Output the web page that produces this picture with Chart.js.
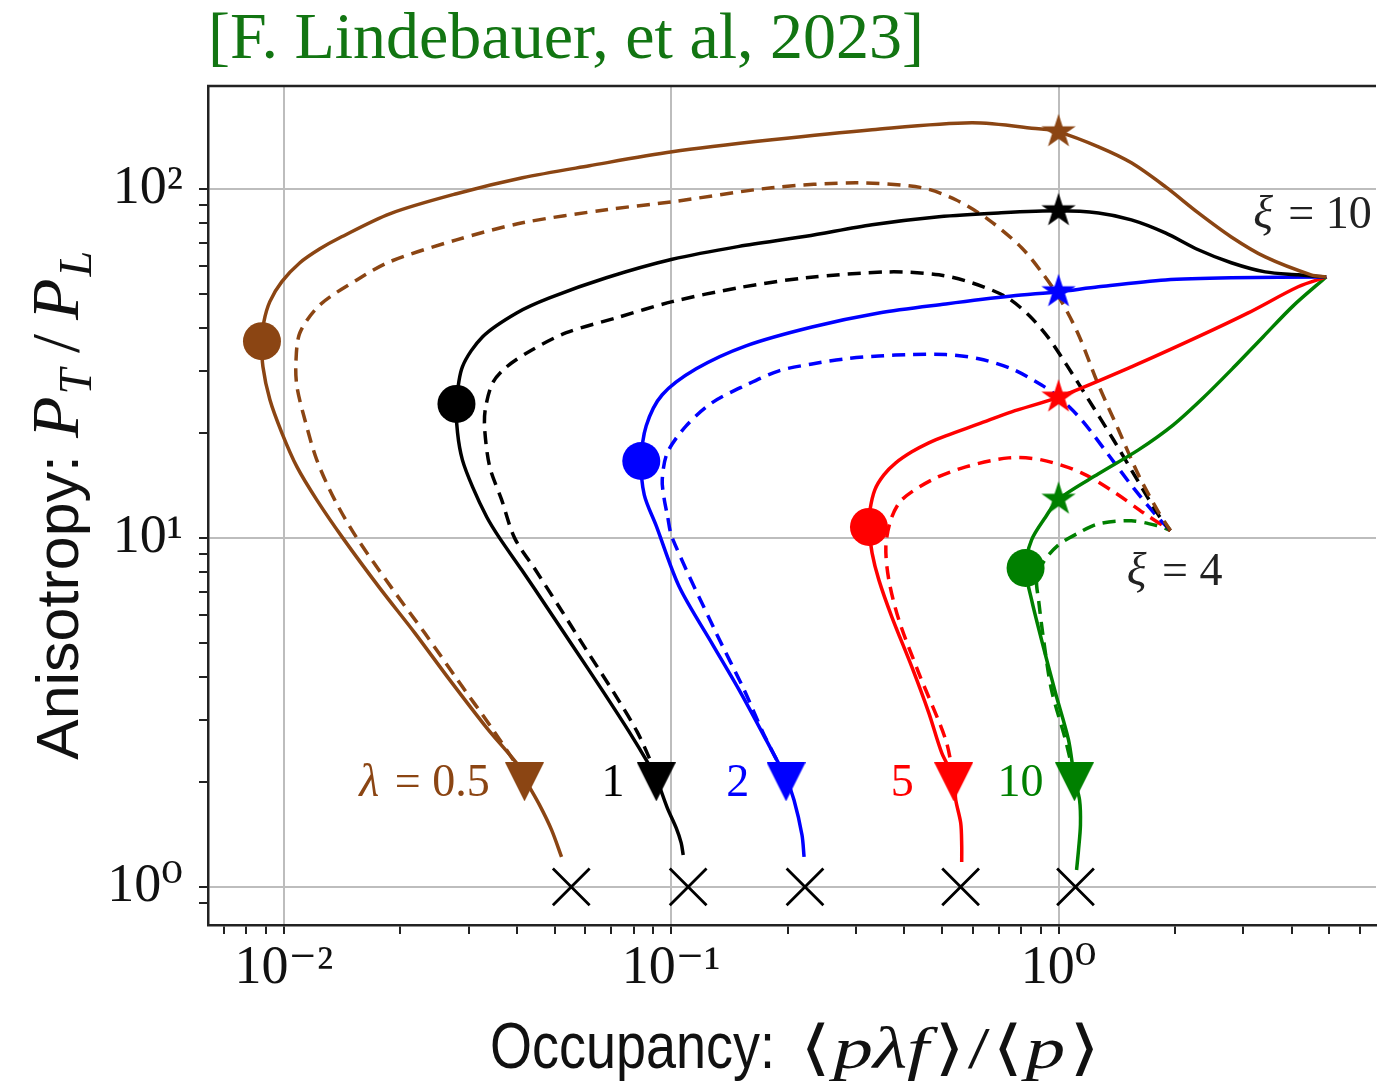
<!DOCTYPE html>
<html><head><meta charset="utf-8">
<script src="https://cdn.jsdelivr.net/npm/chart.js@4.4.1/dist/chart.umd.min.js"></script>
<style>html,body{margin:0;padding:0;background:#fff;overflow:hidden}</style>
</head><body>
<canvas id="c" width="1378" height="1087"></canvas>
<script>
// ---------------- data ----------------
const lambdas = ['0.5', '1', '2', '5', '10'];

// xi = 10 (solid) and xi = 4 (dashed) trajectories for each lambda
const brownSolidX = [0.0521,0.0491,0.0457,0.0418,0.0406,0.0334,0.0268,0.02177,0.01767,0.01419,0.01216,0.01081,0.00988,0.0092,0.00883,0.00878,0.00888,0.0092,0.00988,0.011,0.01239,0.01394,0.01876,0.0279,0.0413,0.0615,0.1006,0.182,0.33,0.597,0.888,1.0,1.268,1.542,1.887,2.295,2.792,3.416,4.487,4.91];
const brownSolidY = [1.219,1.457,1.718,2.05,2.207,2.855,3.918,5.345,7.19,10,12.85,15.97,20,24.9,30.9,36.6,41.6,47.5,54.2,61.4,67.3,72.4,84.8,96.8,107.5,116.4,127.6,138.1,147.6,154.6,148.5,145.6,131.9,118.7,101.4,85.3,72.8,63.8,56.7,55.9];
const brownDashX = [0.0418,0.0394,0.0344,0.02808,0.02308,0.01898,0.01543,0.01353,0.01216,0.01133,0.01081,0.01074,0.011,0.01239,0.01543,0.01876,0.0279,0.0413,0.068,0.1006,0.182,0.2998,0.4436,0.5427,0.6604,0.8027,0.915,1.012,1.126,1.268,1.428,1.608,1.81,1.944];
const brownDashY = [2.05,2.28,2.855,3.918,5.345,7.19,10,12.85,16.73,21.8,27.1,31.7,38.7,46.5,54.8,61.8,71.4,79.9,87.1,91.8,100.7,104,100.7,93,81.5,67.8,56.7,48.1,38.2,27.4,20.4,15.15,11.87,10.5];

const blackSolidX = [0.1074,0.1061,0.103,0.0977,0.0915,0.0877,0.0779,0.0668,0.0566,0.0479,0.0411,0.03603,0.0334,0.0307,0.0289,0.02808,0.0279,0.0289,0.0326,0.0399,0.0485,0.068,0.1006,0.1497,0.2228,0.33,0.491,0.7,1.0,1.268,1.542,1.887,2.295,2.792,3.416,4.156,4.91];
const blackSolidY = [1.235,1.337,1.476,1.685,2.05,2.237,2.78,3.62,4.775,6.3,8.1,10,11.48,14,16.73,20,24.2,30.9,37.7,44.1,48.7,55.6,62.8,68.4,73.1,78.9,83.2,85.3,86.5,85.3,81.5,74.8,66.9,61.4,57.8,56.7,55.9];
const blackDashX = [0.0915,0.0893,0.0817,0.0709,0.0604,0.0514,0.0446,0.0394,0.0365,0.034,0.033,0.0331,0.0346,0.0376,0.0438,0.0536,0.0722,0.1006,0.1497,0.2228,0.3646,0.491,0.597,0.730,0.837,0.942,1.049,1.195,1.386,1.608,1.81,1.944];
const blackDashY = [2.05,2.237,2.78,3.62,4.775,6.34,8.1,10,12.85,15.97,20.4,23.3,27.8,30.9,34.6,38.7,42.7,47.5,52.1,55.6,57.8,56.7,53.8,49.1,43.5,37.4,31.3,24.9,19.1,14.47,11.64,10.5];

const blueSolidX = [0.2203,0.2176,0.2075,0.1979,0.1758,0.1497,0.1276,0.1049,0.0915,0.0852,0.0837,0.0862,0.0948,0.116,0.156,0.2309,0.3436,0.5114,0.7565,1.0,1.268,1.887,2.792,4.91];
const blueSolidY = [1.219,1.409,1.775,2.05,2.637,3.668,4.97,7.24,10.82,13.28,16.6,20.94,25.7,30.5,35.5,40.2,44.1,46.8,49.3,50.7,52.4,54.8,55.6,55.9];
const blueDashX = [0.1979,0.1737,0.1543,0.1306,0.1006,0.0977,0.0959,0.0948,0.0977,0.1093,0.1276,0.156,0.1898,0.2309,0.2825,0.3436,0.418,0.5114,0.622,0.7565,0.904,1.0,1.146,1.345,1.561,1.81,1.944];
const blueDashY = [2.05,2.726,3.668,5.345,10,11.64,12.94,14.66,17.52,20.94,24.4,27.4,30.1,31.5,32.6,33.2,33.5,33.5,32.6,30.5,27.4,25.3,21.8,17.3,13.9,11.41,10.5];

const redSolidX = [0.5623,0.5623,0.559,0.5427,0.536,0.4994,0.4624,0.418,0.3711,0.3436,0.33,0.324,0.326,0.3355,0.354,0.38,0.418,0.4624,0.5114,0.622,0.7565,1.0,1.542,2.295,3.088,4.156,4.91];
const redSolidY = [1.179,1.318,1.525,1.775,2.05,2.42,3.152,4.267,5.94,7.58,9.06,10.75,12.03,13.73,15.15,16.4,17.64,18.72,19.6,21.2,22.96,25.3,30.9,37.7,44.1,52.4,55.9];
const redDashX = [0.536,0.5114,0.4357,0.387,0.3646,0.3582,0.369,0.3937,0.471,0.576,0.743,0.904,1.146,1.403,1.656,1.944];
const redDashY = [2.05,2.637,4.1,5.82,7.58,9.42,11.27,12.85,14.66,15.97,16.95,16.73,15.36,13.45,11.8,10.5];

const greenSolidX = [1.113,1.126,1.139,1.133,1.099,1.061,0.982,0.904,0.852,0.822,0.852,0.926,1.0,1.268,1.608,1.979,2.364,2.825,3.376,4.034,4.91];
const greenSolidY = [1.118,1.276,1.506,1.775,2.05,2.637,3.594,5.1,6.64,8.2,9.87,11.48,12.9,15.26,17.87,21.08,25.2,30.7,37.7,46.2,55.9];
const greenDashX = [1.099,1.042,0.959,0.915,0.888,0.878,0.915,1.0,1.126,1.268,1.542,1.81,1.944];
const greenDashY = [2.05,2.637,3.668,5.1,6.64,7.58,8.54,9.55,10.33,10.97,11.19,10.82,10.5];

// markers (one per lambda)
const circleX = [0.00878, 0.0279, 0.0837, 0.324, 0.822];
const circleY = [36.6, 24.2, 16.6, 10.75, 8.2];
const starX = [1, 1, 1, 1, 1];
const starY = [145.6, 86.5, 50.7, 25.3, 12.9];
const triX = [0.0418, 0.0915, 0.1979, 0.536, 1.099];
const triY = [2, 2, 2, 2, 2];
const crossX = [0.0552, 0.1106, 0.2215, 0.5587, 1.106];
const crossY = [1, 1, 1, 1, 1];

// axes
const xRange = [0.00637, 6.6];
const yRange = [0.778, 197];
const xTickValues = [0.01, 0.1, 1];
const xTickLabels = ['10\u207B\u00B2', '10\u207B\u00B9', '10\u2070'];
const yTickValues = [1, 10, 100];
const yTickLabels = ['10\u2070', '10\u00B9', '10\u00B2'];

// text annotations
const annoText = ['\u03BB = 0.5', '1', '2', '5', '10', '\u03BE = 10', '\u03BE = 4'];
const annoX = [0.034, 0.0757, 0.159, 0.423, 0.915, 3.18, 1.50];
const annoY = [1.82, 1.82, 1.82, 1.82, 1.82, 77.3, 7.33];

// ---------------- styles ----------------
const COLORS = ['#8B4513', '#000000', '#0000FF', '#FF0000', '#008000'];
const annoColor = ['#8B4513', '#000000', '#0000FF', '#FF0000', '#008000', '#222222', '#222222'];
const annoAlign = ['right', 'right', 'right', 'right', 'right', 'left', 'left'];
const SERIF = '"Liberation Serif", "DejaVu Serif", serif';
const SANS = '"Liberation Sans", Arial, sans-serif';
const NARROW = '"Liberation Sans Narrow", "Liberation Sans", sans-serif';

const solids = [[brownSolidX, brownSolidY], [blackSolidX, blackSolidY], [blueSolidX, blueSolidY], [redSolidX, redSolidY], [greenSolidX, greenSolidY]];
const dashes = [[brownDashX, brownDashY], [blackDashX, blackDashY], [blueDashX, blueDashY], [redDashX, redDashY], [greenDashX, greenDashY]];
const zip = (xs, ys) => xs.map((x, i) => ({x, y: ys[i]}));

function starCanvas(color, R) {
  const s = Math.ceil(2 * R + 2);
  const c = document.createElement('canvas'); c.width = s; c.height = s;
  const g = c.getContext('2d'); g.fillStyle = color; g.beginPath();
  const cx = s / 2, cy = s / 2;
  for (let k = 0; k < 10; k++) {
    const r = k % 2 ? R * 0.382 : R;
    const a = -Math.PI / 2 + k * Math.PI / 5;
    const px = cx + r * Math.cos(a), py = cy + r * Math.sin(a);
    if (k) g.lineTo(px, py); else g.moveTo(px, py);
  }
  g.closePath(); g.fill();
  return c;
}
function triCanvas(color, W) {
  const c = document.createElement('canvas'); c.width = W; c.height = W;
  const g = c.getContext('2d'); g.fillStyle = color; g.beginPath();
  g.moveTo(0, 0); g.lineTo(W, 0); g.lineTo(W / 2, W); g.closePath(); g.fill();
  return c;
}

const datasets = [];
datasets.push({data: zip(crossX, crossY), showLine: false, pointStyle: 'crossRot', pointRadius: 26, borderColor: '#000', backgroundColor: '#000', pointBorderWidth: 2.8, order: 0});
datasets.push({data: zip(starX, starY), showLine: false, pointStyle: COLORS.map(c => starCanvas(c, 18)), pointRadius: 18, order: 0});
datasets.push({data: zip(triX, triY), showLine: false, pointStyle: COLORS.map(c => triCanvas(c, 39)), pointRadius: 19, order: 0});
datasets.push({data: zip(circleX, circleY), showLine: false, pointStyle: 'circle', pointRadius: 19, pointBorderWidth: 0, backgroundColor: COLORS, borderColor: COLORS, order: 0});
for (let i = 0; i < 5; i++) {
  datasets.push({data: zip(solids[i][0], solids[i][1]), showLine: true, borderColor: COLORS[i], borderWidth: 3.5, pointRadius: 0, tension: 0.3, order: 1});
  datasets.push({data: zip(dashes[i][0], dashes[i][1]), showLine: true, borderColor: COLORS[i], borderWidth: 3.5, borderDash: [13, 8], pointRadius: 0, tension: 0.3, order: 2});
}

const isPow10 = v => Math.abs(Math.log10(v) - Math.round(Math.log10(v))) < 1e-7;
const isNice = v => { const e = Math.floor(Math.log10(v) + 1e-9); const m = v / Math.pow(10, e); return Math.abs(m - Math.round(m)) < 1e-6; };

function drawRich(ctx, parts, x, y, align, color, width) {
  let w = 0;
  for (const p of parts) { ctx.font = p.f; w += ctx.measureText(p.t).width + (p.sp || 0); }
  const sx = width ? width / w : 1;
  ctx.save();
  ctx.translate(align === 'right' ? x - w * sx : x, y);
  ctx.scale(sx, 1);
  ctx.textAlign = 'left'; ctx.textBaseline = 'alphabetic';
  let cx = 0;
  for (const p of parts) {
    ctx.font = p.f; ctx.fillStyle = p.c || color;
    ctx.fillText(p.t, cx, p.dy || 0);
    cx += ctx.measureText(p.t).width + (p.sp || 0);
  }
  ctx.restore();
}
function annoParts(t) {
  const f = '46px ' + SERIF, fi = 'italic 46px ' + SERIF;
  if (t[0] === '\u03BB' || t[0] === '\u03BE') return [{t: t[0], f: fi, sp: 4}, {t: t.slice(1), f}];
  return [{t, f}];
}

const decor = {
  id: 'decor',
  afterDraw(chart) {
    const ctx = chart.ctx, a = chart.chartArea, xs = chart.scales.x, ys = chart.scales.y;
    ctx.save();
    ctx.strokeStyle = '#222'; ctx.lineWidth = 2.5;
    ctx.beginPath(); ctx.moveTo(a.left - 1, a.top); ctx.lineTo(a.right, a.top); ctx.stroke();
    ctx.restore();
    for (let i = 0; i < annoText.length; i++) {
      drawRich(ctx, annoParts(annoText[i]), xs.getPixelForValue(annoX[i]), ys.getPixelForValue(annoY[i]), annoAlign[i], annoColor[i]);
    }
    // x title
    const bx = 1068;
    drawRich(ctx, [{t: 'Occupancy:', f: '64px ' + NARROW}], 490, bx, 'left', '#111', 285);
    const mi = 'italic 60px ' + SERIF, mr = '60px ' + SERIF;
    drawRich(ctx, [{t: '\u27E8', f: mr, sp: 2}, {t: 'p', f: mi}, {t: '\u03BB', f: mi}, {t: 'f', f: mi, sp: 4}, {t: '\u27E9', f: mr, sp: 2}, {t: '/', f: mr, sp: 2}, {t: '\u27E8', f: mr, sp: 2}, {t: 'p', f: mi, sp: 3}, {t: '\u27E9', f: mr}], 800, bx, 'left', '#111', 300);
    // y title (rotated)
    ctx.save();
    ctx.translate(78, 760);
    ctx.rotate(-Math.PI / 2);
    drawRich(ctx, [{t: 'Anisotropy:', f: '60px ' + SANS}], 0, 0, 'left', '#111', 305);
    const pi = 'italic 68px ' + SERIF, si = 'italic 46px ' + SERIF, pr = '68px ' + SERIF;
    drawRich(ctx, [{t: 'P', f: pi, sp: 2}, {t: 'T', f: si, dy: 13, sp: 16}, {t: '/', f: pr, sp: 14}, {t: 'P', f: pi, sp: 2}, {t: 'L', f: si, dy: 13}], 322, 0, 'left', '#111');
    ctx.restore();
  }
};

const gridColor = ctx => (ctx.tick && isPow10(ctx.tick.value)) ? '#bdbdbd' : 'rgba(0,0,0,0)';
const tickColor = ctx => (ctx.tick && isNice(ctx.tick.value)) ? '#222' : 'rgba(0,0,0,0)';

new Chart(document.getElementById('c'), {
  type: 'scatter',
  data: {datasets},
  plugins: [decor],
  options: {
    responsive: false,
    animation: false,
    events: [],
    layout: {padding: 0, autoPadding: false},
    plugins: {
      legend: {display: false},
      tooltip: {enabled: false},
      title: {display: true, text: '[F. Lindebauer, et al, 2023]', align: 'start', fullSize: false, color: '#127512',
        font: {family: SERIF, size: 66, lineHeight: 1, weight: 'normal'}, padding: {top: 8, bottom: 12}}
    },
    scales: {
      x: {
        type: 'logarithmic', position: 'bottom', min: xRange[0], max: xRange[1],
        afterFit: s => { s.height = 162; },
        border: {color: '#222', width: 2.5},
        grid: {color: gridColor, lineWidth: 2, drawTicks: true, tickLength: 9, tickColor, tickWidth: 2},
        ticks: {autoSkip: false, maxRotation: 0, padding: 2, color: '#111', font: {family: SERIF, size: 54},
          callback: v => { const k = xTickValues.findIndex(t => Math.abs(t - v) / t < 1e-6); return k >= 0 ? xTickLabels[k] : ''; }}
      },
      y: {
        type: 'logarithmic', position: 'left', min: yRange[0], max: yRange[1],
        afterFit: s => { s.width = 208; },
        border: {color: '#222', width: 2.5},
        grid: {color: gridColor, lineWidth: 2, drawTicks: true, tickLength: 9, tickColor, tickWidth: 2},
        ticks: {autoSkip: false, padding: 16, color: '#111', font: {family: SERIF, size: 54},
          callback: v => { const k = yTickValues.findIndex(t => Math.abs(t - v) / t < 1e-6); return k >= 0 ? yTickLabels[k] : ''; }}
      }
    }
  }
});
</script>
</body></html>
